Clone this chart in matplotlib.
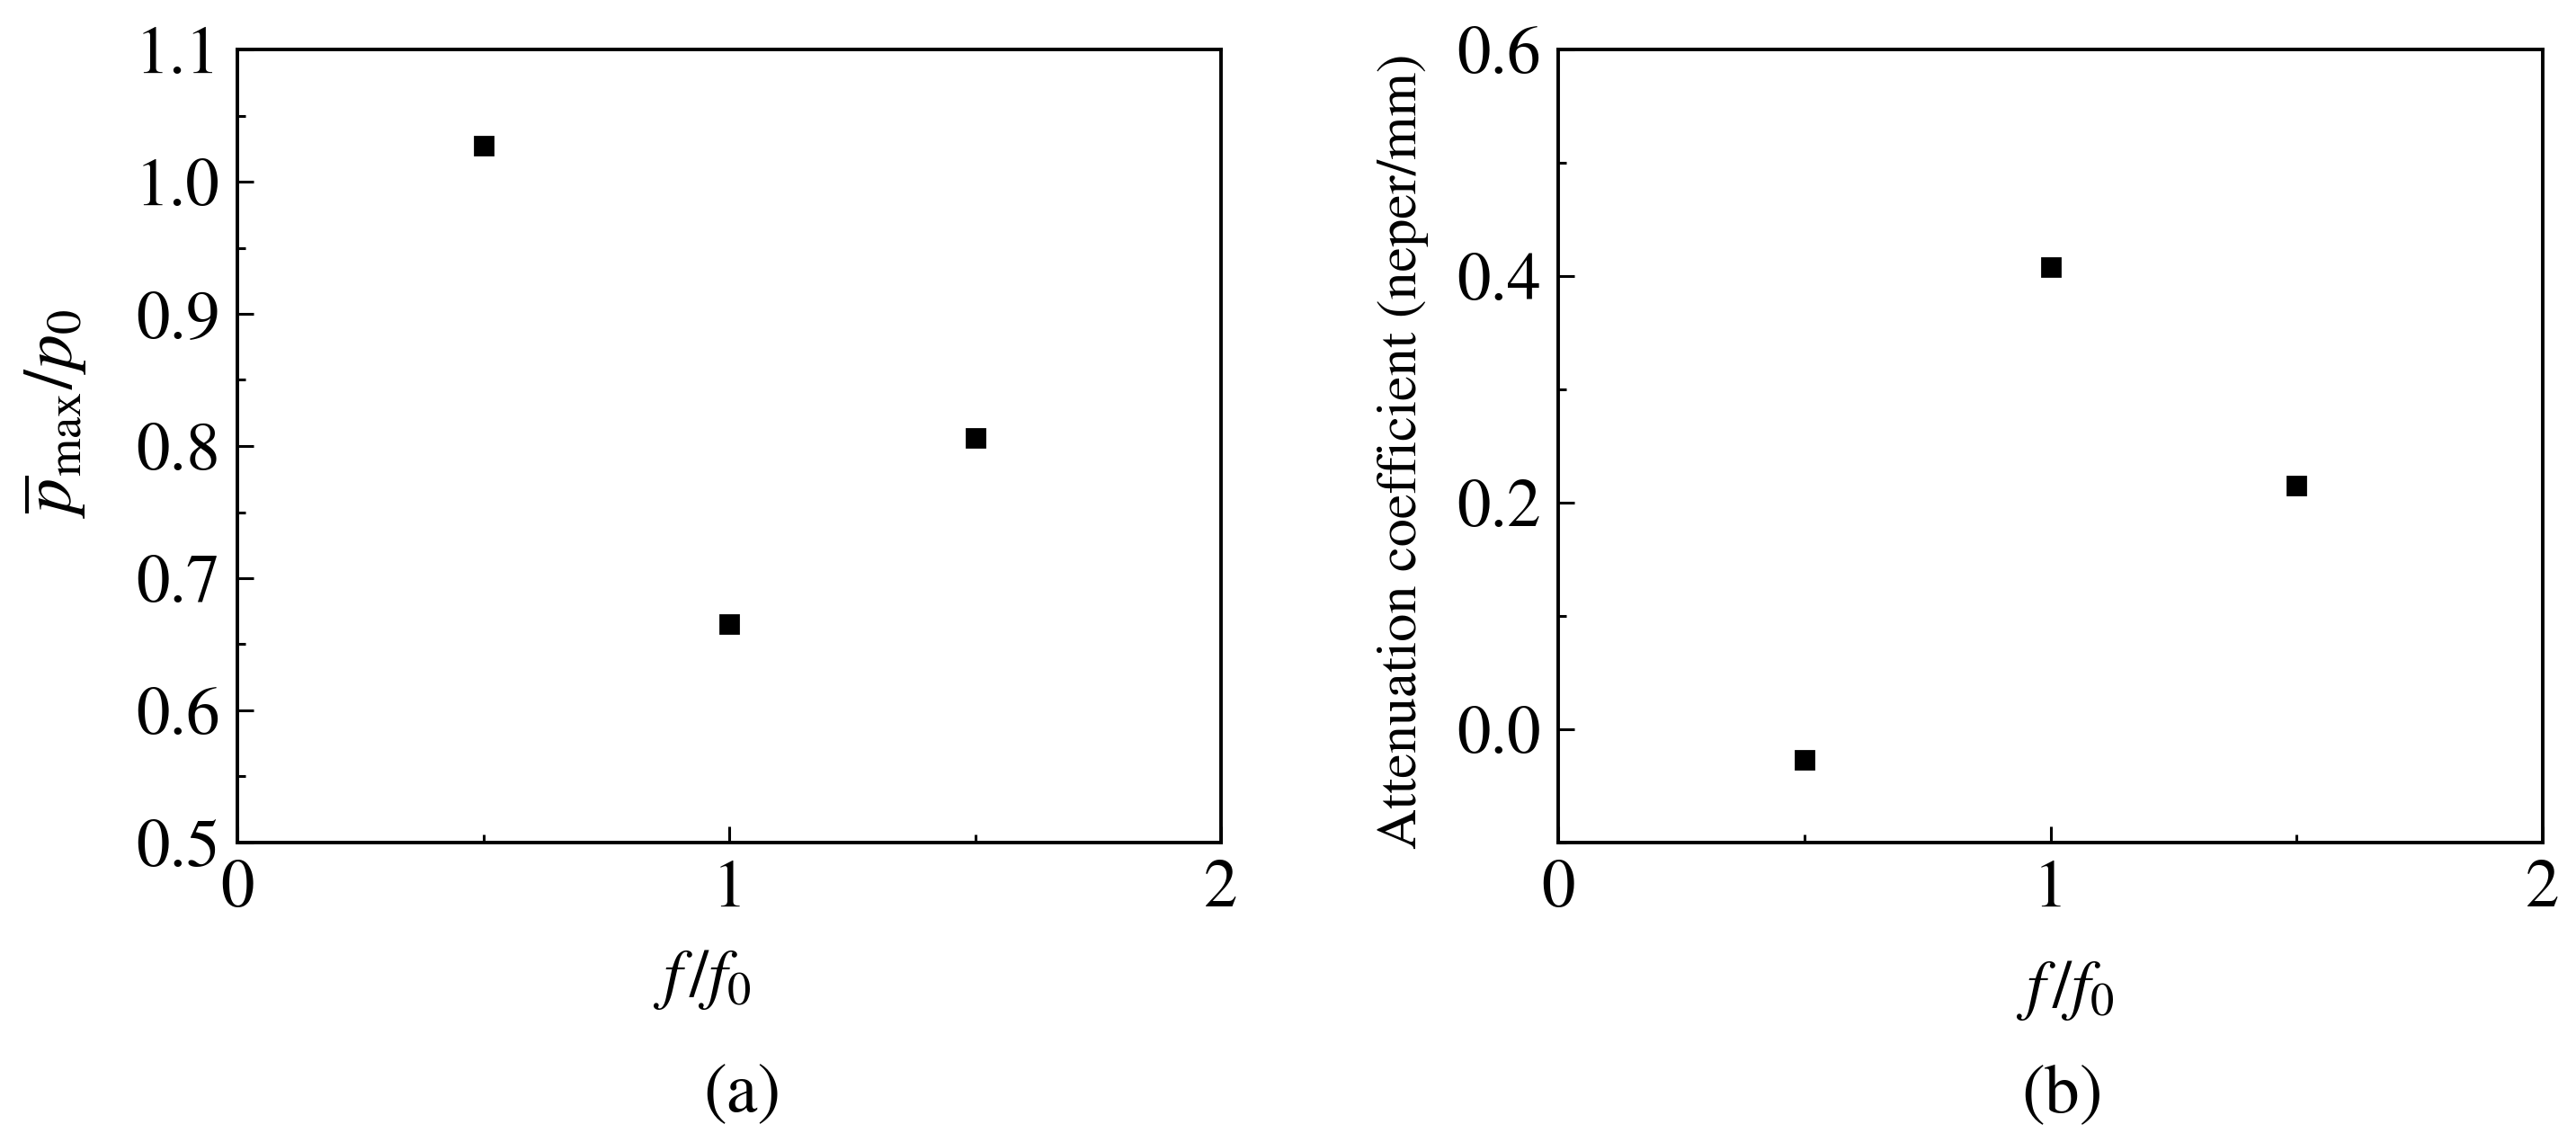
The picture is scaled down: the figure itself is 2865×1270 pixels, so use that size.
#!/usr/bin/env python
# Two-panel scatter: normalised peak pressure (a) and attenuation coefficient (b) vs f/f0.
import matplotlib
matplotlib.use("Agg")
import matplotlib.pyplot as plt
from matplotlib.ticker import MultipleLocator

plt.rcParams["font.family"] = ["STIXGeneral", "DejaVu Serif"]
plt.rcParams["mathtext.fontset"] = "stix"

# data
freq_ratio = [0.5, 1.0, 1.5]
pmax_ratio = [1.027, 0.665, 0.806]
attenuation = [-0.027, 0.408, 0.215]

W, H, DPI = 2865, 1270, 200
TICK_FS = 27
LW = 1.4


def px_axes(fig, x0, x1, y0, y1):
    # axes from pixel box (top-left origin)
    return fig.add_axes([x0 / W, 1 - y1 / H, (x1 - x0) / W, (y1 - y0) / H])


def style(ax, ymajor, yminor):
    for s in ax.spines.values():
        s.set_linewidth(LW)
    ax.xaxis.set_major_locator(MultipleLocator(1))
    ax.xaxis.set_minor_locator(MultipleLocator(0.5))
    ax.yaxis.set_major_locator(MultipleLocator(ymajor))
    ax.yaxis.set_minor_locator(MultipleLocator(yminor))
    ax.tick_params(which="both", direction="in", top=False, right=False,
                   width=1.1, labelsize=TICK_FS, pad=7)
    ax.tick_params(which="major", length=6.5)
    ax.tick_params(which="minor", length=3.2)


def build():
    fig = plt.figure(figsize=(W / DPI, H / DPI), dpi=DPI)

    ax1 = px_axes(fig, 264, 1358, 55, 937)
    ax1.plot(freq_ratio, pmax_ratio, "s", color="black", ms=7.2, mec="black")
    ax1.set_xlim(0, 2)
    ax1.set_ylim(0.5, 1.1)
    style(ax1, 0.1, 0.05)
    ax1.yaxis.set_major_formatter(lambda v, p: f"{v:.1f}")
    ax1.set_ylabel(r"$\overline{p}_{\mathrm{max}}/p_0$", fontsize=28, va="center")
    ax1.yaxis.set_label_coords(-0.185, 0.541)
    ax1.set_xlabel(r"$f\,/f_0$", fontsize=27, va="center")
    ax1.xaxis.set_label_coords(0.472, -0.173)

    ax2 = px_axes(fig, 1733, 2828, 55, 937)
    ax2.plot(freq_ratio, attenuation, "s", color="black", ms=7.2, mec="black")
    ax2.set_xlim(0, 2)
    ax2.set_ylim(-0.1, 0.6)
    style(ax2, 0.2, 0.1)
    ax2.yaxis.set_major_formatter(lambda v, p: f"{v:.1f}")
    ax2.set_ylabel("Attenuation coefficient (neper/mm)", fontsize=22.4, va="center")
    ax2.yaxis.set_label_coords(-0.158, 0.494)
    ax2.set_xlabel(r"$f\,/f_0$", fontsize=27, va="center")
    ax2.xaxis.set_label_coords(0.515, -0.187)

    fig.text(825 / W, 1 - 1218 / H, "(a)", fontsize=28, ha="center", va="center")
    fig.text(2294 / W, 1 - 1218 / H, "(b)", fontsize=28, ha="center", va="center")

    fig.savefig("out.png", dpi=DPI, facecolor="white")
    plt.close(fig)


if __name__ == "__main__":
    build()
